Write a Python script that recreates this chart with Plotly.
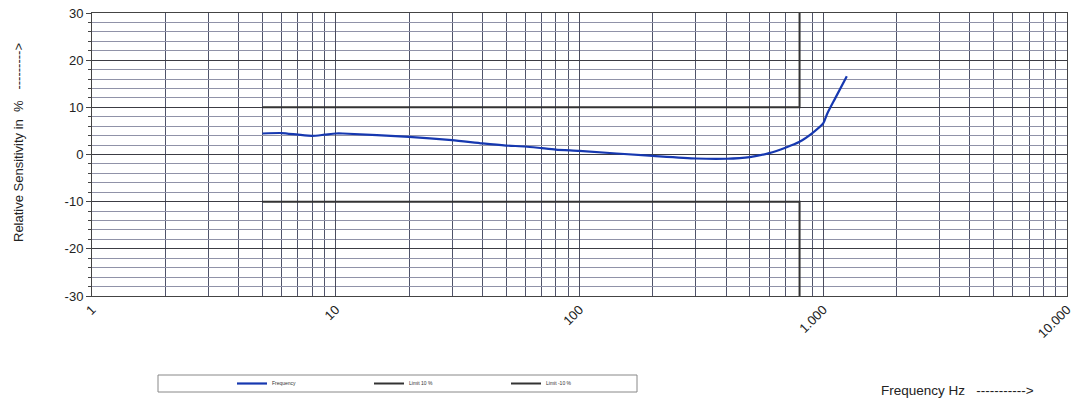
import plotly.graph_objects as go

# ---- data ----
freq_hz = [5, 6, 7, 8, 9, 10, 10.7, 20, 30, 40, 50, 60, 70, 80, 100, 200, 300, 400, 500, 600, 700, 800, 900, 1000, 1040, 1120, 1250]
sensitivity_pct = [4.45, 4.55, 4.2, 3.95, 4.2, 4.45, 4.45, 3.75, 3.05, 2.35, 1.9, 1.7, 1.35, 1.05, 0.75, -0.3, -0.85, -0.9, -0.55, 0.3, 1.45, 2.7, 4.5, 6.6, 8.7, 11.9, 16.6]

limit_freq = [5, 800, 800]
limit_pos = [10, 10, 30]
limit_neg = [-10, -10, -30]

x_tick_vals = [1, 10, 100, 1000, 10000]
x_tick_text = ["1", "10", "100", "1.000", "10.000"]
y_tick_vals = [-30, -20, -10, 0, 10, 20, 30]
y_tick_text = ["-30", "-20", "-10", "0", "10", "20", "30"]

minor_x = [m * d for d in [1, 10, 100, 1000] for m in range(2, 10)]
minor_y = [v for v in range(-30, 31, 2) if v % 10 != 0]

FONT = "Liberation Sans, Arial, sans-serif"
NB = "\u00a0"

fig = go.Figure()
fig.add_trace(go.Scatter(x=freq_hz, y=sensitivity_pct, mode="lines", name="Frequency",
                         line=dict(color="#1638b0", width=2.2, shape="spline", smoothing=0.6)))
fig.add_trace(go.Scatter(x=limit_freq, y=limit_pos, mode="lines", name="Limit 10 %",
                         line=dict(color="#333333", width=2)))
fig.add_trace(go.Scatter(x=limit_freq, y=limit_neg, mode="lines", name="Limit -10 %",
                         line=dict(color="#333333", width=2)))

W, H = 1073, 401
L, R, T, B = 92, 6, 13, 105
pw, ph = W - L - R, H - T - B

def px(x):
    return (x - L) / pw

def py(y):
    return (H - B - y) / ph

fig.update_layout(
    width=W, height=H,
    margin=dict(l=L, r=R, t=T, b=B, autoexpand=False),
    paper_bgcolor="white", plot_bgcolor="white",
    font=dict(family=FONT, color="#222222"),
    showlegend=True,
    legend=dict(orientation="h", x=px(232), xanchor="left", y=py(383.5), yanchor="middle",
                font=dict(size=5, color="#333333", family=FONT), bgcolor="rgba(0,0,0,0)",
                entrywidth=92, entrywidthmode="pixels", itemwidth=30,
                borderwidth=0),
    xaxis=dict(type="log", range=[0, 4.0004], tickvals=x_tick_vals, ticktext=x_tick_text,
               tickangle=-45, tickfont=dict(size=13, family=FONT, color="#222222"),
               ticklabeloverflow="allow", automargin=False,
               showgrid=True, gridcolor="#4a4d5e", gridwidth=1,
               showline=True, linecolor="#444444", linewidth=1, mirror=True,
               ticks="", zeroline=False,
               minor=dict(tickvals=minor_x, showgrid=True, gridcolor="#50546a",
                          gridwidth=1, ticks="")),
    yaxis=dict(range=[-30, 30], tickvals=y_tick_vals, ticktext=y_tick_text,
               tickfont=dict(size=13, family=FONT, color="#222222"),
               automargin=False,
               showgrid=True, gridcolor="#3c3c44", gridwidth=1,
               showline=True, linecolor="#444444", linewidth=1, mirror=True,
               ticks="outside", ticklen=5, tickcolor="#444444", zeroline=False,
               minor=dict(tickvals=minor_y, showgrid=True, gridcolor="#9092a8",
                          gridwidth=1, ticks="outside", ticklen=3,
                          tickcolor="#444444")),
    shapes=[dict(type="rect", xref="paper", yref="paper",
                 x0=px(158), x1=px(637), y0=py(392), y1=py(375),
                 line=dict(color="#888888", width=1), fillcolor="rgba(0,0,0,0)")],
    annotations=[
        dict(text="Relative Sensitivity in" + NB * 2 + "%" + NB * 3 + "-" * 9 + ">",
             xref="paper", yref="paper",
             x=px(18), y=py(143), textangle=-90, showarrow=False,
             font=dict(size=13, family=FONT, color="#222222"),
             xanchor="center", yanchor="middle"),
        dict(text="Frequency Hz" + NB * 3 + "-" * 11 + ">", xref="paper", yref="paper",
             x=px(879), y=py(390), showarrow=False, xanchor="left", yanchor="middle",
             font=dict(size=13.5, family=FONT, color="#222222")),
    ],
)

fig.write_html("out.html", config={"displayModeBar": False},
               post_script="document.body.style.margin='0';document.body.style.overflow='hidden';")
